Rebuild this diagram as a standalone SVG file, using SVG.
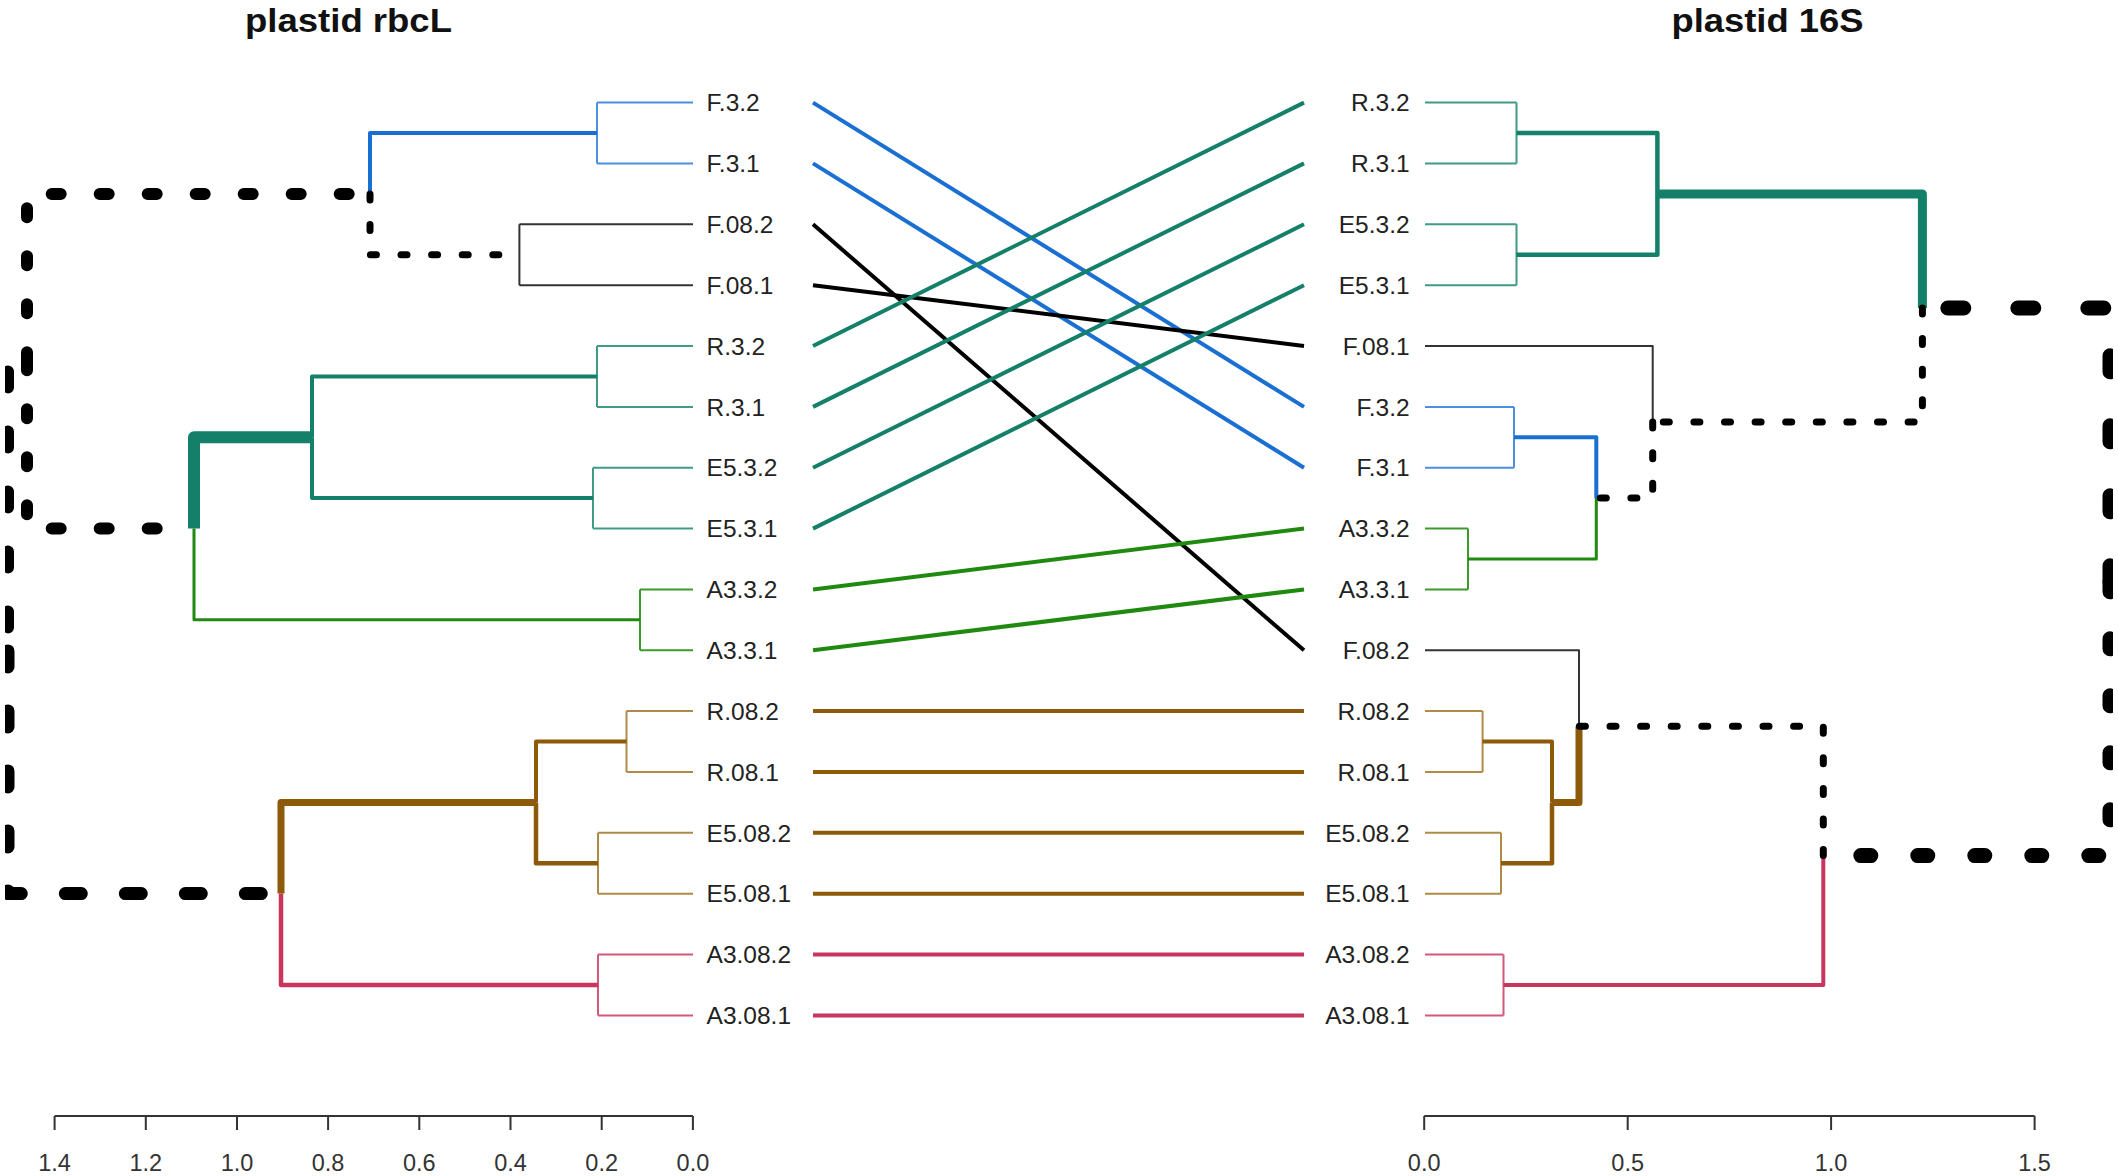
<svg xmlns="http://www.w3.org/2000/svg" width="2118" height="1176" viewBox="0 0 2118 1176">
<style>
  text { font-family: "Liberation Sans", Arial, Helvetica, sans-serif; fill: #222; }
  .title { font-size: 34px; font-weight: bold; fill: #111; text-anchor: middle; }
  .lab { font-size: 24.5px; }
  .labR { font-size: 24.5px; text-anchor: end; }
  .tick { font-size: 23.5px; text-anchor: middle; fill: #333; }
  path, line { fill: none; stroke-linejoin: round; }
  .axis { stroke: #333; stroke-width: 2; }
  .lf-blue { stroke: #4a90dc; stroke-width: 2; }
  .lf-teal { stroke: #3f9a86; stroke-width: 2; }
  .lf-green { stroke: #3c9a2c; stroke-width: 2; }
  .lf-brown { stroke: #b08a48; stroke-width: 2; }
  .lf-pink { stroke: #d2587c; stroke-width: 2; }
  .lf-black { stroke: #333; stroke-width: 2; }
  .blue { stroke: #1a6fd2; }
  .teal { stroke: #14806a; }
  .green { stroke: #208a10; }
  .brown { stroke: #8c5a08; }
  .pink { stroke: #c8365f; }
  .dash { stroke: #000; stroke-linecap: round; }
  .dot { stroke: #000; stroke-linecap: round; stroke-width: 7; stroke-dasharray: 6 24.6; }
  .con { stroke-width: 4; }
</style>
<defs>
  <clipPath id="clipL"><rect x="5" y="0" width="1000" height="1176"/></clipPath>
  <clipPath id="clipR"><rect x="1100" y="0" width="1013" height="1176"/></clipPath>
</defs>

<text class="title" x="348.5" y="32" textLength="207" lengthAdjust="spacingAndGlyphs">plastid rbcL</text>
<text class="title" x="1767.5" y="32" textLength="192" lengthAdjust="spacingAndGlyphs">plastid 16S</text>

<!-- LEFT TREE -->
<g id="left-tree" clip-path="url(#clipL)">
  <g id="L-F3">
    <path class="lf-blue" d="M597,102.6 H693 M597,163.4 H693 M597,102.6 V163.4"/>
    <path class="blue" stroke-width="4" d="M370,193.9 V133 H597"/>
    <text class="lab" x="706.6" y="111.3">F.3.2</text>
    <text class="lab" x="706.6" y="172.1">F.3.1</text>
  </g>
  <g id="L-F08">
    <path class="lf-black" d="M519.4,224.3 H693 M519.4,285.2 H693 M519.4,224.3 V285.2"/>
    <path class="dot" d="M370,193.9 V254.7 H519.4"/>
    <text class="lab" x="706.6" y="233">F.08.2</text>
    <text class="lab" x="706.6" y="293.8">F.08.1</text>
  </g>
  <g id="L-R3">
    <path class="lf-teal" d="M597,346 H693 M597,406.9 H693 M597,346 V406.9"/>
    <path class="teal" stroke-width="4" d="M312,437.3 V376.4 H597"/>
    <text class="lab" x="706.6" y="354.7">R.3.2</text>
    <text class="lab" x="706.6" y="415.5">R.3.1</text>
  </g>
  <g id="L-E53">
    <path class="lf-teal" d="M593,467.7 H693 M593,528.6 H693 M593,467.7 V528.6"/>
    <path class="teal" stroke-width="4" d="M312,437.3 V498.1 H593"/>
    <text class="lab" x="706.6" y="476.4">E5.3.2</text>
    <text class="lab" x="706.6" y="537.2">E5.3.1</text>
  </g>
  <g id="L-teal">
    <path class="teal" stroke-width="12" d="M194,528.5 V437.3 H312"/>
  </g>
  <g id="L-A33">
    <path class="lf-green" d="M640,589.4 H693 M640,650.3 H693 M640,589.4 V650.3"/>
    <path class="green" stroke-width="3" d="M194,528.5 V619.8 H640"/>
    <text class="lab" x="706.6" y="598.1">A3.3.2</text>
    <text class="lab" x="706.6" y="658.9">A3.3.1</text>
  </g>
  <g id="L-R08">
    <path class="lf-brown" d="M626.5,711.1 H693 M626.5,772 H693 M626.5,711.1 V772"/>
    <path class="brown" stroke-width="4" d="M536,802.4 V741.5 H626.5"/>
    <text class="lab" x="706.6" y="719.8">R.08.2</text>
    <text class="lab" x="706.6" y="780.6">R.08.1</text>
  </g>
  <g id="L-E508">
    <path class="lf-brown" d="M598,832.8 H693 M598,893.7 H693 M598,832.8 V893.7"/>
    <path class="brown" stroke-width="4.5" d="M536,802.4 V863.2 H598"/>
    <text class="lab" x="706.6" y="841.5">E5.08.2</text>
    <text class="lab" x="706.6" y="902.3">E5.08.1</text>
  </g>
  <g id="L-brown">
    <path class="brown" stroke-width="7" d="M281,893.6 V802.4 H536"/>
  </g>
  <g id="L-A308">
    <path class="lf-pink" d="M598,954.5 H693 M598,1015.4 H693 M598,954.5 V1015.4"/>
    <path class="pink" stroke-width="4.5" d="M281,893.6 V984.9 H598"/>
    <text class="lab" x="706.6" y="963.2">A3.08.2</text>
    <text class="lab" x="706.6" y="1024">A3.08.1</text>
  </g>
  <g id="L-upper">
    <path class="dash" stroke-width="12" stroke-dasharray="9 39" d="M27,361.2 V193.9 H370"/>
    <path class="dash" stroke-width="12" stroke-dasharray="9 39" d="M27,361.2 V528.5 H194"/>
  </g>
  <g id="L-root">
    <path class="dash" stroke-width="12" stroke-dasharray="16 44" d="M8,627.4 V361.2 H27"/>
    <path class="dash" stroke-width="13" stroke-dasharray="16 44" stroke-dashoffset="36.5" d="M8,627.4 V893.6 H281"/>
  </g>
</g>

<!-- RIGHT TREE -->
<g id="right-tree" clip-path="url(#clipR)">
  <g id="R-R3">
    <path class="lf-teal" d="M1425,102.6 H1516.5 M1425,163.4 H1516.5 M1516.5,102.6 V163.4"/>
    <path class="teal" stroke-width="4.5" d="M1657.4,193.9 V133 H1516.5"/>
    <text class="labR" x="1409.6" y="111.3">R.3.2</text>
    <text class="labR" x="1409.6" y="172.1">R.3.1</text>
  </g>
  <g id="R-E53">
    <path class="lf-teal" d="M1425,224.3 H1516.5 M1425,285.2 H1516.5 M1516.5,224.3 V285.2"/>
    <path class="teal" stroke-width="4.5" d="M1657.4,193.9 V254.7 H1516.5"/>
    <text class="labR" x="1409.6" y="233">E5.3.2</text>
    <text class="labR" x="1409.6" y="293.8">E5.3.1</text>
  </g>
  <g id="R-teal">
    <path class="teal" stroke-width="9" d="M1922.4,308 V193.9 H1657.4"/>
  </g>
  <g id="R-F081">
    <path class="lf-black" d="M1652.7,422.1 V346 H1425"/>
    <text class="labR" x="1409.6" y="354.7">F.08.1</text>
  </g>
  <g id="R-F3">
    <path class="lf-blue" d="M1425,406.9 H1514 M1425,467.7 H1514 M1514,406.9 V467.7"/>
    <path class="blue" stroke-width="4" d="M1596.3,498.1 V437.3 H1514"/>
    <text class="labR" x="1409.6" y="415.5">F.3.2</text>
    <text class="labR" x="1409.6" y="476.4">F.3.1</text>
  </g>
  <g id="R-A33">
    <path class="lf-green" d="M1425,528.6 H1468 M1425,589.4 H1468 M1468,528.6 V589.4"/>
    <path class="green" stroke-width="3" d="M1596.3,498.1 V559 H1468"/>
    <text class="labR" x="1409.6" y="537.2">A3.3.2</text>
    <text class="labR" x="1409.6" y="598.1">A3.3.1</text>
  </g>
  <g id="R-mid-dotted">
    <path class="dot" stroke-width="8" stroke-dasharray="7 25" d="M1652.7,422.1 V498.1 H1596.3"/>
    <path class="dot" stroke-width="8" stroke-dasharray="7 25" d="M1922.4,308 V422.1 H1652.7"/>
  </g>
  <g id="R-F082">
    <path class="lf-black" d="M1579,726.3 V650.3 H1425"/>
    <text class="labR" x="1409.6" y="658.9">F.08.2</text>
  </g>
  <g id="R-R08">
    <path class="lf-brown" d="M1425,711.1 H1482.6 M1425,772 H1482.6 M1482.6,711.1 V772"/>
    <path class="brown" stroke-width="4" d="M1552,802.4 V741.5 H1482.6"/>
    <text class="labR" x="1409.6" y="719.8">R.08.2</text>
    <text class="labR" x="1409.6" y="780.6">R.08.1</text>
  </g>
  <g id="R-E508">
    <path class="lf-brown" d="M1425,832.8 H1501 M1425,893.7 H1501 M1501,832.8 V893.7"/>
    <path class="brown" stroke-width="4.5" d="M1552,802.4 V863.2 H1501"/>
    <text class="labR" x="1409.6" y="841.5">E5.08.2</text>
    <text class="labR" x="1409.6" y="902.3">E5.08.1</text>
  </g>
  <g id="R-brown">
    <path class="brown" stroke-width="7" d="M1579,726.3 V802.4 H1552"/>
  </g>
  <g id="R-A308">
    <path class="lf-pink" d="M1425,954.5 H1503.5 M1425,1015.4 H1503.5 M1503.5,954.5 V1015.4"/>
    <path class="pink" stroke-width="4" d="M1823.3,855.6 V984.9 H1503.5"/>
    <text class="labR" x="1409.6" y="963.2">A3.08.2</text>
    <text class="labR" x="1409.6" y="1024">A3.08.1</text>
  </g>
  <g id="R-lower-dotted">
    <path class="dot" stroke-width="8" stroke-dasharray="7 23" d="M1823.3,855.6 V726.3 H1579"/>
  </g>
  <g id="R-root">
    <path class="dash" stroke-width="15" stroke-dasharray="16 54" d="M2110,581.8 V308 H1922.4"/>
    <path class="dash" stroke-width="15" stroke-dasharray="10 47" d="M2110,581.8 V855.6 H1823.3"/>
  </g>
</g>

<!-- CONNECTORS -->
<g id="connectors" class="con">
  <line class="blue" x1="813" y1="102.6" x2="1304" y2="406.9"/>
  <line class="blue" x1="813" y1="163.4" x2="1304" y2="467.7"/>
  <line stroke="#000" x1="813" y1="224.3" x2="1304" y2="650.3"/>
  <line stroke="#000" x1="813" y1="285.2" x2="1304" y2="346"/>
  <line class="teal" x1="813" y1="346" x2="1304" y2="102.6"/>
  <line class="teal" x1="813" y1="406.9" x2="1304" y2="163.4"/>
  <line class="teal" x1="813" y1="467.7" x2="1304" y2="224.3"/>
  <line class="teal" x1="813" y1="528.6" x2="1304" y2="285.2"/>
  <line class="green" x1="813" y1="589.4" x2="1304" y2="528.6"/>
  <line class="green" x1="813" y1="650.3" x2="1304" y2="589.4"/>
  <line class="brown" x1="813" y1="711.1" x2="1304" y2="711.1"/>
  <line class="brown" x1="813" y1="772" x2="1304" y2="772"/>
  <line class="brown" x1="813" y1="832.8" x2="1304" y2="832.8"/>
  <line class="brown" x1="813" y1="893.7" x2="1304" y2="893.7"/>
  <line class="pink" x1="813" y1="954.5" x2="1304" y2="954.5"/>
  <line class="pink" x1="813" y1="1015.4" x2="1304" y2="1015.4"/>
</g>

<!-- AXES -->
<g id="axis-left">
  <path class="axis" d="M54.6,1116 H692.9 M54.6,1116 V1130 M145.8,1116 V1130 M237,1116 V1130 M328.1,1116 V1130 M419.3,1116 V1130 M510.5,1116 V1130 M601.7,1116 V1130 M692.9,1116 V1130"/>
  <text class="tick" x="54.6" y="1171">1.4</text>
  <text class="tick" x="145.8" y="1171">1.2</text>
  <text class="tick" x="237" y="1171">1.0</text>
  <text class="tick" x="328.1" y="1171">0.8</text>
  <text class="tick" x="419.3" y="1171">0.6</text>
  <text class="tick" x="510.5" y="1171">0.4</text>
  <text class="tick" x="601.7" y="1171">0.2</text>
  <text class="tick" x="692.9" y="1171">0.0</text>
</g>
<g id="axis-right">
  <path class="axis" d="M1424.2,1116 H2034.6 M1424.2,1116 V1130 M1627.7,1116 V1130 M1831.1,1116 V1130 M2034.6,1116 V1130"/>
  <text class="tick" x="1424.2" y="1171">0.0</text>
  <text class="tick" x="1627.7" y="1171">0.5</text>
  <text class="tick" x="1831.1" y="1171">1.0</text>
  <text class="tick" x="2034.6" y="1171">1.5</text>
</g>
</svg>
